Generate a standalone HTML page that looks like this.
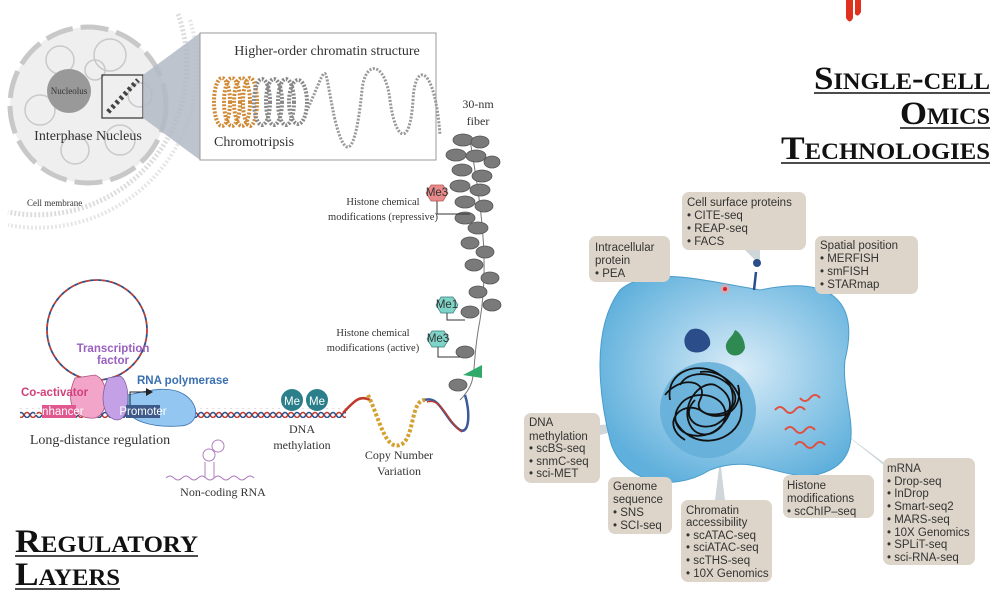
<!DOCTYPE html>
<html><head><meta charset="utf-8"><style>
html,body{margin:0;padding:0;background:#fff;}
svg{display:block;}
.s{font-family:"Liberation Serif",serif;fill:#333;}
.a{font-family:"Liberation Sans",sans-serif;fill:#333;font-size:11.5px;}
.t{font-family:"Liberation Serif",serif;font-weight:bold;fill:#111;font-variant:small-caps;font-size:33px;}
</style></head><body>
<svg width="996" height="595" viewBox="0 0 996 595" xmlns="http://www.w3.org/2000/svg">
<defs>
<pattern id="hx" width="12" height="10" patternUnits="userSpaceOnUse">
<path d="M0 5 Q3 0 6 5 T12 5" stroke="#c0392b" stroke-width="1.6" fill="none"/>
<path d="M0 5 Q3 10 6 5 T12 5" stroke="#2c4f8c" stroke-width="1.6" fill="none"/>
</pattern>
<radialGradient id="cg" cx="0.55" cy="0.45" r="0.6"><stop offset="0" stop-color="#d9ecf8"/><stop offset="1" stop-color="#5fb0dc"/></radialGradient>
</defs>

<path d="M178 14 A150 150 0 0 1 8 212" stroke="#ddd" stroke-width="5" fill="none" stroke-dasharray="2 2"/>
<path d="M190 20 A160 160 0 0 1 8 225" stroke="#e6e6e6" stroke-width="4" fill="none" stroke-dasharray="2 2"/>
<circle cx="88" cy="105" r="78" fill="#efefef" stroke="#c8c8c8" stroke-width="5" stroke-dasharray="28 8"/>
<g stroke="#c9c9c9" fill="none" stroke-width="1.5">
<circle cx="60" cy="60" r="14"/><circle cx="110" cy="55" r="16"/><circle cx="40" cy="110" r="15"/><circle cx="120" cy="140" r="15"/><circle cx="75" cy="150" r="14"/><circle cx="140" cy="95" r="12"/><circle cx="95" cy="70" r="10"/>
</g>
<circle cx="69" cy="91" r="22" fill="#999"/>
<text x="69" y="94" class="s" font-size="9" text-anchor="middle">Nucleolus</text>
<rect x="102" y="75" width="41" height="43" fill="none" stroke="#333" stroke-width="1.2"/>
<path d="M108 112 L138 80" stroke="#444" stroke-width="5" fill="none" stroke-dasharray="3 3"/>
<text x="88" y="140" class="s" font-size="14" text-anchor="middle">Interphase Nucleus</text>
<text x="27" y="206" class="s" font-size="9">Cell membrane</text>
<polygon points="143,75 200,33 200,160 143,118" fill="#b3bac5" opacity="0.85"/>
<rect x="200" y="33" width="236" height="127" fill="#fff" stroke="#999"/>
<text x="327" y="55" class="s" font-size="14" text-anchor="middle">Higher-order chromatin structure</text>
<g fill="none" stroke-width="4" stroke-dasharray="2 1.5">
<g stroke="#d08a36"><ellipse cx="222" cy="102" rx="8" ry="24"/><ellipse cx="232" cy="102" rx="8" ry="24"/><ellipse cx="242" cy="102" rx="8" ry="24"/><ellipse cx="250" cy="102" rx="7" ry="24"/></g>
<g stroke="#888"><ellipse cx="262" cy="102" rx="8" ry="23"/><ellipse cx="274" cy="102" rx="8" ry="23"/><ellipse cx="286" cy="102" rx="8" ry="23"/><ellipse cx="298" cy="102" rx="9" ry="22"/></g>
<path d="M308 108 C330 60 322 60 335 120 C345 160 355 160 362 90 C365 60 385 60 390 100 C395 140 410 150 413 100 C415 60 435 65 440 135" stroke="#999" stroke-width="3"/>
</g>
<text x="214" y="146" class="s" font-size="14">Chromotripsis</text>
<text x="478" y="108" class="s" font-size="12" text-anchor="middle">30-nm</text>
<text x="478" y="125" class="s" font-size="12" text-anchor="middle">fiber</text>
<path d="M470 140 C480 200 490 260 480 320 C470 370 480 380 460 400" stroke="#777" fill="none" stroke-width="1"/>
<g fill="#7a7a7a" stroke="#555" stroke-width="0.8">
<ellipse cx="463" cy="140" rx="10" ry="6"/><ellipse cx="480" cy="142" rx="9" ry="6"/><ellipse cx="456" cy="155" rx="10" ry="6"/><ellipse cx="476" cy="156" rx="10" ry="6"/><ellipse cx="492" cy="162" rx="8" ry="6"/>
<ellipse cx="462" cy="170" rx="10" ry="6"/><ellipse cx="482" cy="176" rx="10" ry="6"/><ellipse cx="460" cy="186" rx="10" ry="6"/><ellipse cx="480" cy="190" rx="10" ry="6"/><ellipse cx="465" cy="202" rx="10" ry="6"/><ellipse cx="484" cy="206" rx="9" ry="6"/><ellipse cx="465" cy="218" rx="10" ry="6"/><ellipse cx="478" cy="228" rx="10" ry="6"/>
<ellipse cx="470" cy="243" rx="9" ry="6"/><ellipse cx="485" cy="252" rx="9" ry="6"/><ellipse cx="474" cy="265" rx="9" ry="6"/><ellipse cx="490" cy="278" rx="9" ry="6"/><ellipse cx="478" cy="292" rx="9" ry="6"/><ellipse cx="492" cy="305" rx="9" ry="6"/><ellipse cx="470" cy="312" rx="9" ry="6"/><ellipse cx="465" cy="352" rx="9" ry="6"/><ellipse cx="458" cy="385" rx="9" ry="6"/>
</g>
<polygon points="431,185 443,185 448,193 443,201 431,201 426,193" fill="#e98a8a" stroke="#b55" stroke-width="0.7"/>
<text x="437" y="196" class="a" font-size="6" text-anchor="middle">Me3</text>
<path d="M437 201 V214 H470" stroke="#333" fill="none"/>
<text x="383" y="205" class="s" font-size="10.5" text-anchor="middle">Histone chemical</text>
<text x="383" y="220" class="s" font-size="10.5" text-anchor="middle">modifications (repressive)</text>
<polygon points="441,297 453,297 458,305 453,313 441,313 436,305" fill="#7fd4c8" stroke="#377" stroke-width="0.7"/>
<text x="447" y="308" class="a" font-size="6" text-anchor="middle">Me1</text>
<polygon points="432,331 444,331 449,339 444,347 432,347 427,339" fill="#7fd4c8" stroke="#377" stroke-width="0.7"/>
<text x="438" y="342" class="a" font-size="6" text-anchor="middle">Me3</text>
<path d="M447 313 V320 H465 M438 347 V357 H460" stroke="#333" fill="none"/>
<polygon points="463,375 482,365 482,378" fill="#2faa6a"/>
<text x="373" y="336" class="s" font-size="10.5" text-anchor="middle">Histone chemical</text>
<text x="373" y="351" class="s" font-size="10.5" text-anchor="middle">modifications (active)</text>
<rect x="20" y="408" width="326" height="10" fill="url(#hx)"/>
<path d="M343 413 C355 400 360 395 370 400" stroke="#c0392b" stroke-width="2.5" fill="none"/>
<path d="M368 395 C380 420 385 450 400 445 C415 440 410 400 425 400" stroke="#d4a030" stroke-width="4" fill="none" stroke-dasharray="3 2"/>
<path d="M425 400 C440 395 445 420 460 430 C470 435 470 410 465 395" stroke="#3a5a9a" stroke-width="2.5" fill="none"/>
<path d="M427 402 C442 397 447 422 462 432" stroke="#c0392b" stroke-width="1.5" fill="none"/>
<circle cx="97" cy="330" r="50" fill="none" stroke="#c0392b" stroke-width="1.8" stroke-dasharray="4 4"/>
<circle cx="97" cy="330" r="50" fill="none" stroke="#2c4f8c" stroke-width="1.8" stroke-dasharray="4 4" stroke-dashoffset="4"/>
<path d="M75 378 C65 400 72 420 95 418 C110 414 110 380 95 375 Z" fill="#f3a5c9" stroke="#b05080" stroke-width="0.8"/>
<path d="M108 378 C98 398 104 420 118 420 C132 418 130 380 120 376 Z" fill="#c4a0e6" stroke="#8060a0" stroke-width="0.8"/>
<path d="M128 395 C150 390 170 385 185 395 C200 405 200 425 180 426 C150 428 130 420 128 410 Z" fill="#93c6f0" stroke="#3a70b0" stroke-width="0.8"/>
<path d="M130 405 V392 H148" stroke="#222" fill="none"/><polygon points="146,388 153,392 146,396" fill="#222"/>
<rect x="42" y="405" width="34" height="13" fill="#e0588f"/>
<text x="59" y="415" class="a" font-size="8" style="fill:#fff" text-anchor="middle">Enhancer</text>
<rect x="126" y="405" width="34" height="13" fill="#3d5a8a"/>
<text x="143" y="415" class="a" font-size="8" style="fill:#fff" text-anchor="middle">Promoter</text>
<text x="21" y="396" class="a" font-size="9.5" font-weight="bold" style="fill:#d0407a">Co-activator</text>
<text x="113" y="352" class="a" font-size="9" font-weight="bold" style="fill:#9a60c0" text-anchor="middle">Transcription</text>
<text x="113" y="364" class="a" font-size="9" font-weight="bold" style="fill:#9a60c0" text-anchor="middle">factor</text>
<text x="137" y="384" class="a" font-size="9.5" font-weight="bold" style="fill:#3a70b0">RNA polymerase</text>
<text x="100" y="444" class="s" font-size="14" text-anchor="middle">Long-distance regulation</text>
<circle cx="292" cy="400" r="11" fill="#2a7f8a"/><circle cx="317" cy="400" r="11" fill="#2a7f8a"/>
<text x="292" y="405" class="a" font-size="12" style="fill:#fff" text-anchor="middle">Me</text>
<text x="317" y="405" class="a" font-size="12" style="fill:#fff" text-anchor="middle">Me</text>
<text x="302" y="433" class="s" font-size="12" text-anchor="middle">DNA</text>
<text x="302" y="449" class="s" font-size="12" text-anchor="middle">methylation</text>
<text x="399" y="459" class="s" font-size="12" text-anchor="middle">Copy Number</text>
<text x="399" y="475" class="s" font-size="12" text-anchor="middle">Variation</text>
<path d="M166 478 q4 -4 8 0 t8 0 t8 0 t8 0 t8 0 t8 0 t8 0 t8 0 t8 0 t8 0 t8 0" stroke="#b080c0" fill="none"/>
<path d="M205 478 V462 M214 478 V462" stroke="#b080c0" fill="none"/><circle cx="209" cy="455" r="6" fill="none" stroke="#b080c0"/><circle cx="218" cy="446" r="6" fill="none" stroke="#b080c0"/>
<text x="223" y="496" class="s" font-size="12" text-anchor="middle">Non-coding RNA</text>
<text x="15" y="552" class="t" textLength="183" lengthAdjust="spacingAndGlyphs">Regulatory</text>
<line x1="15" y1="556" x2="198" y2="556" stroke="#111" stroke-width="1.5"/>
<text x="15" y="585" class="t" textLength="105" lengthAdjust="spacingAndGlyphs">Layers</text>
<line x1="15" y1="589" x2="120" y2="589" stroke="#111" stroke-width="1.5"/>

<path d="M846 0 V18 Q850 25 853 18 V0 Z M855 0 V14 Q858 18 861 12 V0 Z" fill="#e03020"/>
<text x="814" y="89" class="t" textLength="176" lengthAdjust="spacingAndGlyphs">Single-cell</text>
<line x1="814" y1="93" x2="990" y2="93" stroke="#111" stroke-width="1.5"/>
<text x="900" y="124" class="t" textLength="90" lengthAdjust="spacingAndGlyphs">Omics</text>
<line x1="900" y1="128" x2="990" y2="128" stroke="#111" stroke-width="1.5"/>
<text x="781" y="159" class="t" textLength="209" lengthAdjust="spacingAndGlyphs">Technologies</text>
<line x1="781" y1="163" x2="990" y2="163" stroke="#111" stroke-width="1.5"/>

<g fill="#c9d2d6" opacity="0.9">
<polygon points="745,250 760,250 760,265"/>
<polygon points="660,282 672,282 720,340"/>
<polygon points="820,290 835,294 805,300"/>
<polygon points="600,425 600,435 660,420"/>
<polygon points="640,477 652,477 680,450"/>
<polygon points="715,500 725,500 720,460"/>
<polygon points="800,475 812,475 770,440"/>
<polygon points="883,462 890,470 840,430"/>
</g>
<path d="M620 290 C650 265 700 280 760 290 C830 275 860 300 845 360 C840 400 870 450 830 470 C790 490 760 450 710 470 C670 495 620 480 610 440 C600 400 590 330 620 290 Z" fill="url(#cg)" stroke="#4a9ccc"/>
<circle cx="708" cy="410" r="48" fill="#63aed8" opacity="0.85"/>
<g stroke="#111" stroke-width="1.8" fill="none">
<path d="M670 400 C665 370 700 360 720 375 C745 390 730 430 705 435 C680 440 668 420 680 405 C690 390 720 392 725 410 C730 430 700 445 690 425 C680 405 700 380 715 385 C735 395 735 415 715 425 C695 432 680 415 695 400"/>
<path d="M675 420 C690 450 730 445 740 420 C748 395 725 368 700 372"/>
<path d="M665 395 C680 375 710 380 700 400 C690 420 740 420 735 395 C730 375 690 365 680 385"/>
<path d="M685 440 C660 425 680 400 700 410 C720 425 745 410 738 385"/>
</g>
<path d="M690 330 C700 325 712 335 710 345 C705 355 688 355 685 345 C683 338 686 334 690 330 Z" fill="#2b4d8a"/>
<path d="M735 330 C740 332 745 340 745 348 C742 358 728 358 726 348 C725 340 732 338 735 330 Z" fill="#2e8a50"/>
<circle cx="725" cy="289" r="5" fill="#f0a0a0" opacity="0.6"/><circle cx="725" cy="289" r="2" fill="#e02020"/>
<path d="M756 272 L754 290" stroke="#2b4d8a" stroke-width="2.5"/><circle cx="757" cy="263" r="4" fill="#2b4d8a"/>
<g stroke="#e05040" stroke-width="2" fill="none">
<path d="M775 410 q5 -6 10 0 t10 0 t10 0 M785 430 q5 -6 10 0 t10 0 t10 0 M800 398 q5 6 10 0 t10 0 M795 445 q5 -6 10 0 t10 0 t10 0"/>
</g>

<g>
<rect x="682" y="192" width="124" height="58" rx="7" fill="#ddd5c9"/>
<text class="a" x="687" y="206">Cell surface proteins</text>
<text class="a" x="687" y="219">• CITE-seq</text><text class="a" x="687" y="232">• REAP-seq</text><text class="a" x="687" y="245">• FACS</text>
<rect x="589" y="236" width="81" height="46" rx="7" fill="#ddd5c9"/>
<text class="a" x="595" y="251">Intracellular</text><text class="a" x="595" y="264">protein</text><text class="a" x="595" y="277">• PEA</text>
<rect x="815" y="236" width="103" height="58" rx="7" fill="#ddd5c9"/>
<text class="a" x="820" y="249">Spatial position</text>
<text class="a" x="820" y="262">• MERFISH</text><text class="a" x="820" y="275">• smFISH</text><text class="a" x="820" y="288">• STARmap</text>
<rect x="524" y="413" width="76" height="70" rx="7" fill="#ddd5c9"/>
<text class="a" x="529" y="426">DNA</text><text class="a" x="529" y="440">methylation</text>
<text class="a" x="529" y="452">• scBS-seq</text><text class="a" x="529" y="465">• snmC-seq</text><text class="a" x="529" y="477">• sci-MET</text>
<rect x="608" y="477" width="64" height="57" rx="7" fill="#ddd5c9"/>
<text class="a" x="613" y="490">Genome</text><text class="a" x="613" y="503">sequence</text>
<text class="a" x="613" y="516">• SNS</text><text class="a" x="613" y="529">• SCI-seq</text>
<rect x="681" y="500" width="91" height="82" rx="7" fill="#ddd5c9"/>
<text class="a" x="686" y="514">Chromatin</text><text class="a" x="686" y="526">accessibility</text>
<text class="a" x="686" y="539">• scATAC-seq</text><text class="a" x="686" y="551">• sciATAC-seq</text><text class="a" x="686" y="564">• scTHS-seq</text><text class="a" x="686" y="577">• 10X Genomics</text>
<rect x="783" y="475" width="91" height="43" rx="7" fill="#ddd5c9"/>
<text class="a" x="787" y="489">Histone</text><text class="a" x="787" y="502">modifications</text><text class="a" x="787" y="515">• scChIP–seq</text>
<rect x="883" y="458" width="92" height="107" rx="7" fill="#ddd5c9"/>
<text class="a" x="887" y="472">mRNA</text>
<text class="a" x="887" y="485">• Drop-seq</text><text class="a" x="887" y="497">• InDrop</text><text class="a" x="887" y="510">• Smart-seq2</text><text class="a" x="887" y="523">• MARS-seq</text><text class="a" x="887" y="536">• 10X Genomics</text><text class="a" x="887" y="548">• SPLiT-seq</text><text class="a" x="887" y="561">• sci-RNA-seq</text>
</g>
</svg>
</body></html>
